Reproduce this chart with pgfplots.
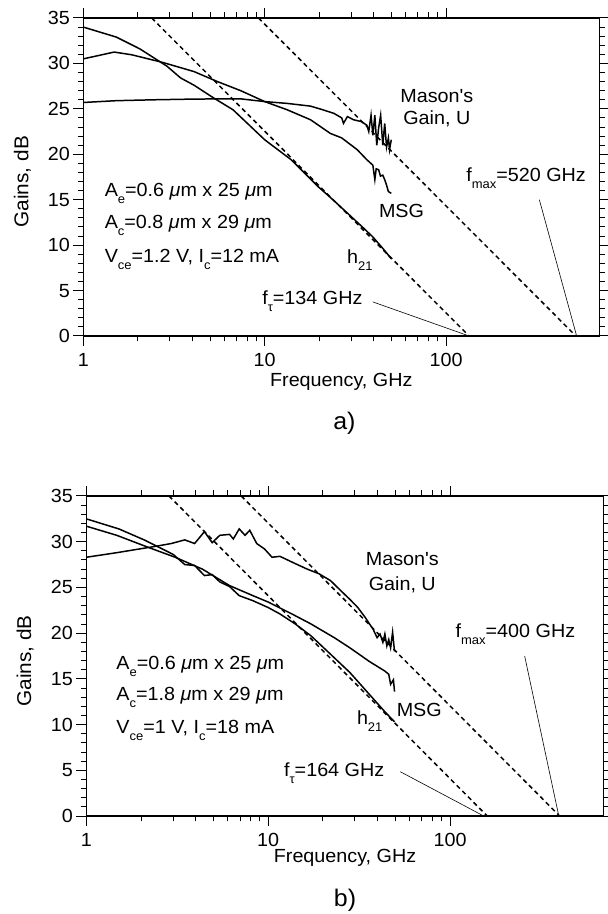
\documentclass[border=0pt]{standalone}
\usepackage{fontspec}
\setmainfont{Liberation Sans}[FakeStretch=1.04, Ligatures=TeXOff]
\usepackage{pgfplots}
\pgfplotsset{compat=1.18}

\newcommand{\fs}{\fontsize{19bp}{22bp}\selectfont}
\newcommand{\sub}[1]{\raisebox{-7bp}{\fontsize{12.5bp}{12.5bp}\selectfont #1}}

\pgfplotsset{
  gainax/.style={
    scale only axis,
    xmin=1, xmax=700, ymin=0, ymax=35,
    xtick={1,10,100}, xticklabels={1,10,100},
    ytick={0,5,...,35}, minor y tick num=4,
    tick align=outside, major tick length=10bp, minor tick length=5.5bp,
    axis line style={line width=1.1pt},
    every tick/.style={black, line width=1pt},
    tick label style={font=\fs},
    xticklabel style={yshift=-4bp},
    /pgf/number format/assume math mode=true,
    xlabel={Frequency, GHz}, ylabel={Gains, dB},
    xlabel style={font=\fs},
    ylabel style={font=\fontsize{20bp}{22bp}\selectfont},
    clip=false,
  },
  mycurve/.style={black, line width=1.5pt, no marks},
  myextr/.style={black, line width=1.5pt, no marks, dash pattern=on 4.5bp off 3.5bp},
  mylead/.style={black, line width=0.6pt, no marks},
}

\begin{document}
\begin{tikzpicture}
\useasboundingbox (0,0) rectangle (608bp,914bp);

% ---------------- a) ----------------
\begin{semilogxaxis}[gainax, at={(83.3bp,578bp)}, anchor=south west,
  width=516bp, height=318bp,
  xlabel style={at={(axis description cs:0.5,-0.144)}, anchor=center},
  ylabel style={at={(axis description cs:-0.118,0.485)}, anchor=center}]
% h21
\addplot[mycurve] coordinates {
 (1,34.0) (1.52,32.9) (2.05,31.6) (2.89,29.7) (3.44,28.4) (4.08,27.6)
 (5.23,26.2) (6.69,24.9) (10,21.6) (14.0,19.4) (19.8,16.4) (22,15.6)
 (25,14.6) (29.4,13.3) (35,11.9) (39.5,10.9) (45,9.6) (49.9,8.5)};
% MSG
\addplot[mycurve] coordinates {
 (1,30.5) (1.48,31.25) (1.85,30.95) (2.75,30.1) (4.08,29.1) (5.49,28.0)
 (7.38,27.0) (10,25.8) (13.3,24.9) (17.9,23.8) (23.0,22.3) (26.6,21.8)
 (32.4,20.5) (36.6,19.4) (39.5,18.8) (40.5,17.2) (41.2,18.4) (42.5,18.3)
 (43.5,17.6) (44.8,17.7) (45.9,17.2) (47.0,16.6) (48.1,15.9) (49.9,15.7)};
% U
\addplot[mycurve] coordinates {
 (1,25.7) (1.52,25.9) (2.49,26.0) (3.70,26.06) (5.49,26.1) (7.38,26.1)
 (10,25.8) (13.3,25.6) (17.9,25.3) (20.9,24.9) (24.1,24.5) (26.6,24.0)
 (27.2,23.4) (28.6,24.15) (30.9,23.8) (34.1,23.6) (36.6,23.2) (37.5,22.5)
 (38.6,24.3) (39.5,22.1) (40.5,24.3) (41.5,21.0) (42.5,22.9) (43.6,24.3)
 (44.8,21.0) (45.9,23.4) (47.0,20.8) (48.1,21.8) (48.8,20.5) (49.9,21.6)};
% extrapolations
\addplot[myextr] coordinates {(2.383,35) (134,0)};
\addplot[myextr] coordinates {(9.25,35) (520,0)};
% leaders
\addplot[mylead] coordinates {(39.5,3.75) (134,0)};
\addplot[mylead] coordinates {(327,15.0) (525,0)};

\node[font=\fs, align=center, inner sep=0pt] at (axis cs:89,25.1) {Mason's\\Gain, U};
\node[font=\fs, anchor=base west, inner sep=0pt] at (axis cs:129,17.0) {f\sub{max}=520 GHz};
\node[font=\fs, anchor=base west, inner sep=0pt] at (axis cs:42.6,13.05) {MSG};
\node[font=\fs, anchor=base west, inner sep=0pt] at (axis cs:28.4,8.0) {h\sub{21}};
\node[font=\fs, anchor=base west, inner sep=0pt] at (axis cs:9.68,3.5) {f\sub{τ}=134 GHz};
\node[font=\fs, anchor=base west, inner sep=0pt] at (axis cs:1.31,15.33) {A\sub{e}=0.6 \textit{μ}m x 25 \textit{μ}m};
\node[font=\fs, anchor=base west, inner sep=0pt] at (axis cs:1.31,11.84) {A\sub{c}=0.8 \textit{μ}m x 29 \textit{μ}m};
\node[font=\fs, anchor=base west, inner sep=0pt] at (axis cs:1.31,8.05) {V\sub{ce}=1.2 V, I\sub{c}=12 mA};
\node[font=\fontsize{24bp}{24bp}\selectfont] at (axis description cs:0.506,-0.274) {a)};
\end{semilogxaxis}

% ---------------- b) ----------------
\begin{semilogxaxis}[gainax, at={(86.3bp,98bp)}, anchor=south west,
  width=517.5bp, height=320bp,
  xlabel style={at={(axis description cs:0.5,-0.131)}, anchor=center},
  ylabel style={at={(axis description cs:-0.118,0.485)}, anchor=center}]
% h21
\addplot[mycurve] coordinates {
 (1,32.5) (1.51,31.4) (2.08,30.2) (3.01,28.6) (3.48,27.5) (3.94,27.4)
 (4.46,26.3) (4.92,26.4) (5.42,25.6) (6.13,25.1) (6.93,24.1) (8.24,23.55)
 (10,22.8) (11.6,22.1) (14.1,21.0) (17.2,19.7) (22.0,17.7) (28.1,15.7)
 (36.0,13.3) (43.8,11.4) (49.5,10.3)};
% MSG
\addplot[mycurve] coordinates {
 (1,31.7) (1.47,30.7) (2.18,29.4) (3.08,28.3) (4.35,27.0) (6.13,25.2)
 (8.24,24.1) (10,23.4) (13.5,22.1) (17.2,21.0) (23.1,19.5) (28.1,18.4)
 (36.0,16.9) (43.8,15.85) (46.0,15.5) (47.1,14.4) (48.8,14.9) (49.5,13.6)};
% U
\addplot[mycurve] coordinates {
 (1,28.3) (1.47,28.8) (2.41,29.5) (2.93,29.8) (3.48,30.2) (3.94,29.8)
 (4.46,31.1) (4.92,29.9) (5.42,30.7) (6.13,30.8) (6.43,30.3) (6.93,31.4)
 (7.46,30.7) (7.92,31.25) (8.65,29.8) (9.55,29.2) (10.5,28.3) (11.6,28.4)
 (14.1,27.6) (16.4,27.0) (19.0,26.5) (22.0,25.75) (25.5,24.5) (28.1,23.7)
 (31.1,22.8) (34.2,21.7) (37.8,20.4) (39.7,19.5) (41.2,19.9) (42.7,19.0)
 (43.8,19.9) (44.9,18.6) (46.0,19.3) (47.1,18.4) (48.3,20.1) (49.5,18.0)};
% extrapolations
\addplot[myextr] coordinates {(2.85,35) (160,0)};
\addplot[myextr] coordinates {(7.11,35) (400,0)};
% leaders
\addplot[mylead] coordinates {(53.3,4.84) (153,0)};
\addplot[mylead] coordinates {(257,17.5) (396,0)};

\node[font=\fontsize{19bp}{25bp}\selectfont, align=center, inner sep=0pt] at (axis cs:54.6,26.6) {Mason's\\Gain, U};
\node[font=\fs, anchor=base west, inner sep=0pt] at (axis cs:107,19.5) {f\sub{max}=400 GHz};
\node[font=\fs, anchor=base west, inner sep=0pt] at (axis cs:50.8,10.9) {MSG};
\node[font=\fs, anchor=base west, inner sep=0pt] at (axis cs:30.7,9.98) {h\sub{21}};
\node[font=\fs, anchor=base west, inner sep=0pt] at (axis cs:12.2,4.3) {f\sub{τ}=164 GHz};
\node[font=\fs, anchor=base west, inner sep=0pt] at (axis cs:1.46,16.0) {A\sub{e}=0.6 \textit{μ}m x 25 \textit{μ}m};
\node[font=\fs, anchor=base west, inner sep=0pt] at (axis cs:1.46,12.6) {A\sub{c}=1.8 \textit{μ}m x 29 \textit{μ}m};
\node[font=\fs, anchor=base west, inner sep=0pt] at (axis cs:1.46,9.06) {V\sub{ce}=1 V, I\sub{c}=18 mA};
\node[font=\fontsize{24bp}{24bp}\selectfont] at (axis description cs:0.5,-0.262) {b)};
\end{semilogxaxis}
\end{tikzpicture}
\end{document}
